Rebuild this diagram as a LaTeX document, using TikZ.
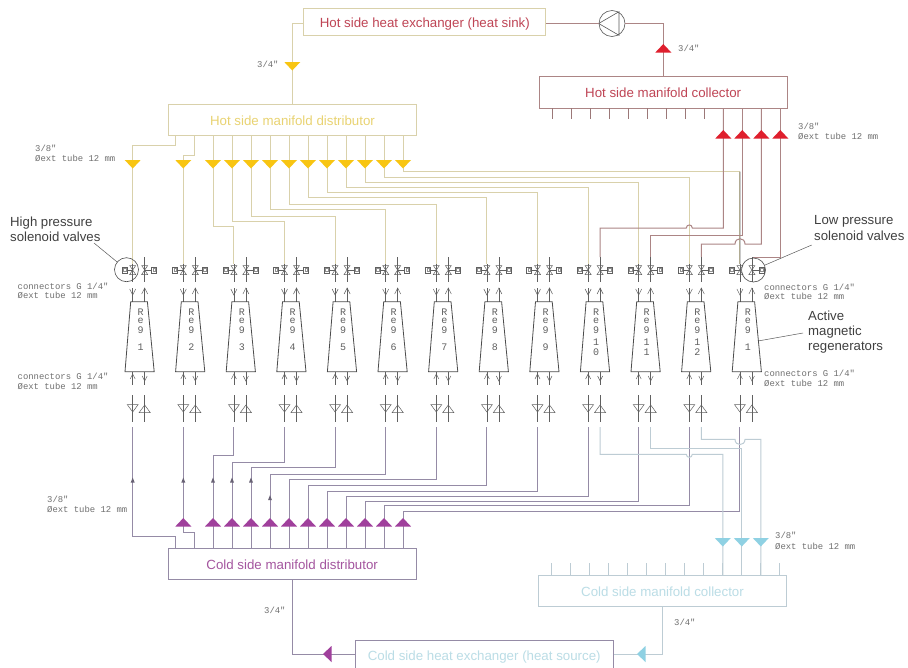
\documentclass[tikz,border=0pt]{standalone}
\usepackage{fontspec}
\setmainfont{Liberation Sans}
\newfontfamily\cadfont{Liberation Mono}
\definecolor{tanl}{HTML}{D9D1AB}
\definecolor{redl}{HTML}{AC8585}
\definecolor{purl}{HTML}{958BA6}
\definecolor{cyal}{HTML}{BDCCD4}
\definecolor{dark}{HTML}{606060}
\definecolor{yelt}{HTML}{F8C512}
\definecolor{redt}{HTML}{DF1F2D}
\definecolor{purt}{HTML}{A0409C}
\definecolor{cyat}{HTML}{8FD1E3}
\definecolor{redtxt}{HTML}{BF4555}
\definecolor{yeltxt}{HTML}{E9D372}
\definecolor{purtxt}{HTML}{A4569F}
\definecolor{cyatxt}{HTML}{BBDDE6}
\tikzset{
  tube/.style={line width=1pt},
  hotl/.style={tube,draw=tanl},
  redline/.style={tube,draw=redl},
  purline/.style={tube,draw=purl},
  cyaline/.style={tube,draw=cyal},
  glyph/.style={draw=dark,line width=0.5pt},
  boxn/.style={draw,line width=1pt,inner sep=0pt,text height=14pt,text depth=2.8pt,font=\fontsize{13.3}{15}\selectfont},
  cadtxt/.style={font=\cadfont\fontsize{8.9}{10}\selectfont,text=dark!90,anchor=west,inner sep=0pt},
  calltxt/.style={font=\fontsize{13.2}{15.4}\selectfont,text=black!75,anchor=west,align=left,inner sep=0pt},
  regtxt/.style={font=\cadfont\fontsize{10}{10}\selectfont,text=dark,inner sep=0pt},
}
\newcommand{\tridown}[3]{\fill[#1] (#2-8,#3) -- (#2+8,#3) -- (#2,#3+8.5) -- cycle;}
\newcommand{\triup}[3]{\fill[#1] (#2-8,#3+8.5) -- (#2+8,#3+8.5) -- (#2,#3) -- cycle;}
\newcommand{\trileft}[3]{\fill[#1] (#2+8.5,#3-8) -- (#2+8.5,#3+8) -- (#2,#3) -- cycle;}
\newcommand{\tinyup}[3]{\fill[#1] (#2-2,#3+2.5) -- (#2+2,#3+2.5) -- (#2,#3-2.5) -- cycle;}
\begin{document}
\begin{tikzpicture}[x=1pt,y=-1pt]
\useasboundingbox (0,0) rectangle (908,667);
\clip (0,0) rectangle (908,667);
\fill[white] (0,0) rectangle (908,667);

% boxes
\node[boxn,draw=tanl,text=redtxt,minimum width=241.7pt,minimum height=27pt] (hsx) at (424.8,21.5) {Hot side heat exchanger (heat sink)};
\node[boxn,draw=tanl,text=yeltxt,minimum width=248.4pt,minimum height=31pt] (hmd) at (292.5,119.5) {Hot side manifold distributor};
\node[boxn,draw=redl,text=redtxt,minimum width=248.3pt,minimum height=32pt] (hmc) at (663.2,92) {Hot side manifold collector};
\node[boxn,draw=purl,text=purtxt,minimum width=247.7pt,minimum height=31pt] (cmd) at (292.2,563.8) {Cold side manifold distributor};
\node[boxn,draw=cyal,text=cyatxt,minimum width=248.4pt,minimum height=31pt] (cmc) at (662.5,591.2) {Cold side manifold collector};
\node[boxn,draw=purl,text=cyatxt,minimum width=258.3pt,minimum height=28pt] (csx) at (484.2,654.5) {Cold side heat exchanger (heat source)};
\node[circle,draw=black!65,line width=0.6pt,minimum size=26pt,inner sep=0pt] (pump) at (612,23.5) {};
\draw[black!65,line width=0.6pt] (pump.west) -- (619,11.7) -- (619,35.3) -- cycle;

% ports and tube ends
\foreach \i in {1,...,13}{
  \pgfmathsetmacro\xx{132.7+50.6*(\i-1)}
  \pgfmathsetmacro\px{175+19*(\i-1)}
  \pgfmathsetmacro\qx{552.3+19*(\i-1)}
  \coordinate (hd\i) at (\px,135);
  \coordinate (cd\i) at (\px,548.3);
  \coordinate (hc\i) at (\qx,108);
  \coordinate (cc\i) at (\qx-0.5,575.7);
  \coordinate (vl\i) at (\xx,264);
  \coordinate (vr\i) at (\xx+12,257);
  \coordinate (bl\i) at (\xx,427);
  \coordinate (br\i) at (\xx+12,427);
}

% stubs
\foreach \i in {1,...,13}{
  \draw[redline,draw=redl!90!black] (hc\i) -- ++(0,11);
  \draw[cyaline] (cc\i) -- ++(0,-12.4);
}

% main circuit
\draw[hotl] (hsx.west |- pump) -| (hmd.north);
\draw[redline] (hsx.east |- pump) -- (pump.west);
\draw[redline] (pump.east) -| (hmc.north);
\draw[purline] (cmd.south) |- (csx.west);
\draw[cyaline] (cmc.south) |- (csx.east);

% hot distributor
\draw[hotl] (hd1) -- ++(0,10.7) -| (vl1);
\draw[hotl] (hd2) -- ++(0,20.7) -| (vl2);
\foreach \p/\e in {3/226.7,4/221,5/216,6/209,7/204.3,8/197.7,9/192.5,10/187,11/182,12/177.3,13/171.7}{
  \draw[hotl] (hd\p) -- ++(0,{\e-135}) -| (vl\p);
}
\coordinate (blk) at (740,171.7);
\draw[black!60,line width=0.8pt] (blk) -- (vl13);

% hot collector
\coordinate (hopAr) at (692.3,228);
\coordinate (hopAl) at (686.3,228);
\coordinate (hopBr) at (745,244);
\coordinate (hopBl) at (735,244);
\draw[redline] (hc10) |- (hopAr) .. controls +(0,-4) and +(0,-4) .. (hopAl) -| (vr10);
\draw[redline] (hc11) -- ++(0,127) -| (vr11);
\draw[redline] (hc12) |- (hopBr) .. controls +(0,-7) and +(0,-7) .. (hopBl) -| (vr12);
\draw[redline] (hc13) -- ++(0,149) -| (vr13);

% cold distributor
\draw[purline] (cd1) -- ++(0,-11.6) -| (bl1);
\draw[purline] (cd2) -- ++(0,-15.6) -| (bl2);
\foreach \p/\e in {3/455.7,4/462.3,5/467.7,6/474,7/479.3,8/485.7,9/491,10/496.3,11/501.3,12/505.7,13/511.7}{
  \draw[purline] (cd\p) -- ++(0,{\e-548.3}) -| (bl\p);
}

% cold collector
\coordinate (hopCr) at (686.3,454.3);
\coordinate (hopCl) at (692.3,454.3);
\coordinate (hopDr) at (735,439.3);
\coordinate (hopDl) at (745,439.3);
\draw[cyaline] (br10) |- (hopCr) .. controls +(0,4) and +(0,4) .. (hopCl) -| (cc10);
\draw[cyaline] (br11) -- ++(0,21.3) -| (cc11);
\draw[cyaline] (br12) |- (hopDr) .. controls +(0,7) and +(0,7) .. (hopDl) -| (cc12);

% big triangles
\tridown{yelt}{292.3}{62}
\triup{redt}{663.3}{44}
\trileft{purt}{323}{654}
\trileft{cyat}{637}{654}
\tridown{yelt}{132.7}{160}
\tridown{yelt}{183.3}{160}
\foreach \i in {3,...,13}{
  \pgfmathsetmacro\px{175+19*(\i-1)}
  \tridown{yelt}{\px}{160}
  \triup{purt}{\px}{518}
}
\triup{purt}{183.3}{518}
\foreach \i in {10,...,13}{
  \pgfmathsetmacro\qx{552.3+19*(\i-1)}
  \triup{redt}{\qx}{130}
}
\foreach \i in {10,11,12}{
  \pgfmathsetmacro\qx{551.8+19*(\i-1)}
  \tridown{cyat}{\qx}{538}
}
% tiny arrows
\foreach \ax/\ay in {132.7/480,183.3/480,213/480,232/480,251/480,270/497.7}{
  \tinyup{purl!70!black}{\ax}{\ay}
}

% regenerators and valves
\foreach \i in {1,...,13}{
  \pgfmathsetmacro\xx{132.7+50.6*(\i-1)}
  \begin{scope}[shift={(\xx,0)}]
    % valves left
    \draw[glyph] (0,264) -- (0,282);
    \draw[glyph] (-10.8,267) rectangle (-5.8,273);
    \draw[glyph,line width=0.25pt,draw=dark!70] (-9.5,268.5) rectangle (-7,271.5);
    \draw[glyph] (-5.8,270) -- (0,270);
    \draw[glyph] (-3,265.5) -- (3,265.5) -- (-3,274.5) -- (3,274.5) -- cycle;
    % valves right
    \draw[glyph] (12,257) -- (12,282);
    \draw[glyph] (9,265.5) -- (15,265.5) -- (9,274.5) -- (15,274.5) -- cycle;
    \draw[glyph] (12,270) -- (19,270);
    \draw[glyph] (19,267) rectangle (24,273);
    \draw[glyph,line width=0.25pt,draw=dark!70] (20.2,268.5) rectangle (22.8,271.5);
    % top arrows
    \draw[glyph] (0,288) -- (0,302);
    \draw[glyph] (-3,289) -- (0,295) -- (3,289);
    \draw[glyph] (12,288) -- (12,302);
    \draw[glyph] (9,294) -- (12,288) -- (15,294);
    % body
    \draw[draw=black!70,line width=0.8pt] (-2,301.7) -- (14.7,301.7) -- (21.5,371.7) -- (-7.7,371.7) -- cycle;
    \node[regtxt] (rr\i) at (8,312) {R};
    \node[regtxt] (re\i) at (8,321) {e};
    \node[regtxt] (rg\i) at (8,330) {9};
    % bottom arrows
    \draw[glyph] (0,372) -- (0,385);
    \draw[glyph] (-2.5,379) -- (0,374) -- (2.5,379);
    \draw[glyph] (12,372) -- (12,385);
    \draw[glyph] (9.5,376) -- (12,381) -- (14.5,376);
    % check valves
    \draw[glyph] (0,395) -- (0,422);
    \draw[glyph] (-5.5,404.5) -- (5.5,404.5) -- (0,412) -- cycle;
    \draw[glyph] (12,395) -- (12,422);
    \draw[glyph] (6.5,412.5) -- (17.5,412.5) -- (12,405) -- cycle;
  \end{scope}
}
\foreach \i/\n in {1/1,2/2,3/3,4/4,5/5,6/6,7/7,8/8,9/9,13/1}{
  \pgfmathsetmacro\xx{140.7+50.6*(\i-1)}
  \node[regtxt] (rn\i) at (\xx,347) {\n};
}
\foreach \i/\n/\m in {10/1/0,11/1/1,12/1/2}{
  \pgfmathsetmacro\xx{140.7+50.6*(\i-1)}
  \node[regtxt] (rn\i) at (\xx,342) {\n};
  \node[regtxt] (rm\i) at (\xx,352) {\m};
}

% callouts
\node[circle,draw=black!70,line width=0.6pt,minimum size=24pt,inner sep=0pt] (hpc) at (126.5,269.7) {};
\node[circle,draw=black!70,line width=0.6pt,minimum size=24pt,inner sep=0pt] (lpc) at (753.5,270) {};
\node[calltxt] (hpt) at (10,229) {High pressure\\solenoid valves};
\node[calltxt] (lpt) at (814,228) {Low pressure\\solenoid valves};
\node[calltxt] (amt) at (808,332) {Active\\magnetic\\regenerators};
\coordinate (hpe) at (94,243);
\coordinate (lpe) at (811.7,245);
\coordinate (ame) at (803,333);
\coordinate (amf) at (758,341);
\draw[black!65,line width=0.5pt] (hpe) -- (hpc);
\draw[black!65,line width=0.5pt] (lpe) -- (lpc);
\draw[black!65,line width=0.5pt] (ame) -- (amf);

% dimension texts
\node[cadtxt] (t1) at (257,64) {3/4″};
\node[cadtxt] (t2) at (678,48) {3/4″};
\node[cadtxt] (t3) at (264,610) {3/4″};
\node[cadtxt] (t4) at (674,622) {3/4″};
\node[cadtxt] (t5) at (35,148) {3/8″};
\node[cadtxt] (t6) at (35,158) {Øext tube 12 mm};
\node[cadtxt] (t7) at (798,126) {3/8″};
\node[cadtxt] (t8) at (798,136) {Øext tube 12 mm};
\node[cadtxt] (t9) at (17.5,286) {connectors G 1/4″};
\node[cadtxt] (t10) at (17.5,295.5) {Øext tube 12 mm};
\node[cadtxt] (t11) at (764,287) {connectors G 1/4″};
\node[cadtxt] (t12) at (764,296) {Øext tube 12 mm};
\node[cadtxt] (t13) at (17.5,376.5) {connectors G 1/4″};
\node[cadtxt] (t14) at (17.5,386.5) {Øext tube 12 mm};
\node[cadtxt] (t15) at (764,373) {connectors G 1/4″};
\node[cadtxt] (t16) at (764,383) {Øext tube 12 mm};
\node[cadtxt] (t17) at (47,499) {3/8″};
\node[cadtxt] (t18) at (47,509) {Øext tube 12 mm};
\node[cadtxt] (t19) at (775,535) {3/8″};
\node[cadtxt] (t20) at (775,546) {Øext tube 12 mm};
\end{tikzpicture}
\end{document}
